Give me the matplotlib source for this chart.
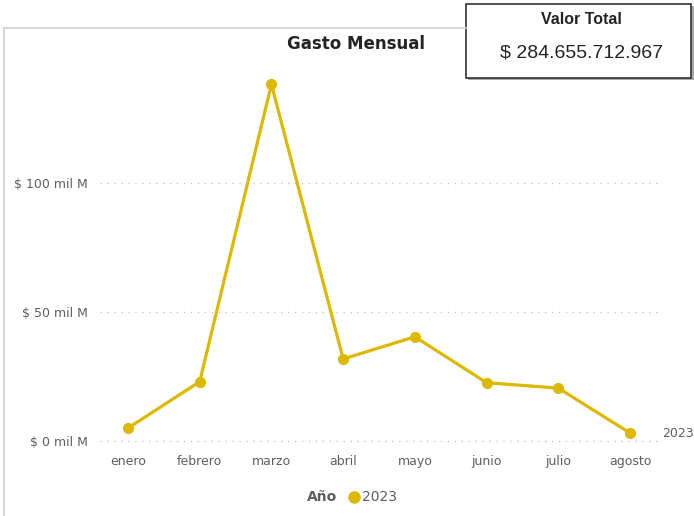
import matplotlib.pyplot as plt
from matplotlib.patches import Rectangle
from matplotlib.lines import Line2D

# monthly spend, in "mil M" (thousands of millions)
meses = ['enero', 'febrero', 'marzo', 'abril', 'mayo', 'junio', 'julio', 'agosto']
gasto = [5.0, 23.0, 138.3, 31.8, 40.4, 22.6, 20.5, 3.1]
ticks_y = [0, 50, 100]
tick_labels_y = ['$ 0 mil M', '$ 50 mil M', '$ 100 mil M']
serie = '2023'
valor_total = '$ 284.655.712.967'

gold = '#DDB800'
gray = '#605E5C'

fig = plt.figure(figsize=(6.94, 5.16), dpi=100)
ax = fig.add_axes([100 / 694, 75 / 516, 558 / 694, 374 / 516])

x = list(range(len(meses)))
ax.plot(x, gasto, color=gold, lw=2.3, marker='o', markersize=7, solid_joinstyle='round',
        zorder=3)
ax.text(x[-1] + 0.45, gasto[-1], serie, color=gray, fontsize=9, va='center', ha='left',
        clip_on=False)

ax.set_xlim(-0.39, 7.39)
ax.set_ylim(0, 145)
ax.set_xticks(x)
ax.set_xticklabels(meses, color=gray, fontsize=9)
ax.set_yticks(ticks_y)
ax.set_yticklabels(tick_labels_y, color=gray, fontsize=9)
ax.tick_params(length=0, pad=10)
ax.tick_params(axis='y', pad=9)
for sp in ax.spines.values():
    sp.set_visible(False)
ax.yaxis.grid(True, color='#C8C8C8', linestyle=(0, (1, 4)), lw=1)
for gl in ax.get_ygridlines():
    gl.set_clip_on(False)
ax.set_axisbelow(True)

# chart title and legend
fig.text(356 / 694, 1 - 44 / 516, 'Gasto Mensual', ha='center', va='center',
         fontsize=12, fontweight='bold', color='#252423')
fig.text(322 / 694, 1 - 497 / 516, 'Año', ha='center', va='center',
         fontsize=10, fontweight='bold', color=gray)
fig.add_artist(Line2D([354 / 694], [1 - 497 / 516], marker='o', color=gold,
                      markersize=8, transform=fig.transFigure))
fig.text(362 / 694, 1 - 497 / 516, serie, ha='left', va='center', fontsize=10, color=gray)

# visual frame
fig.add_artist(Line2D([4 / 694, 4 / 694], [0, 1 - 28 / 516], color='#D0D0D0', lw=1.2,
                      transform=fig.transFigure))
fig.add_artist(Line2D([4 / 694, 466 / 694], [1 - 28 / 516, 1 - 28 / 516], color='#D0D0D0',
                      lw=1.2, transform=fig.transFigure))

# card with total
fig.add_artist(Rectangle((468 / 694, 1 - 80 / 516), 226 / 694, 74 / 516,
                         transform=fig.transFigure, facecolor='#AAAAAA', edgecolor='none'))
fig.add_artist(Rectangle((466 / 694, 1 - 78 / 516), 225 / 694, 74 / 516,
                         transform=fig.transFigure, facecolor='white', edgecolor='#333333',
                         lw=1.2))
fig.text(581 / 694, 1 - 19 / 516, 'Valor Total', ha='center', va='center',
         fontsize=11.5, fontweight='bold', color='#252423', family='Liberation Sans')
fig.text(581 / 694, 1 - 53 / 516, valor_total, ha='center', va='center',
         fontsize=14, color='#252423', family='Liberation Sans')

fig.savefig('out.png', dpi=100)
